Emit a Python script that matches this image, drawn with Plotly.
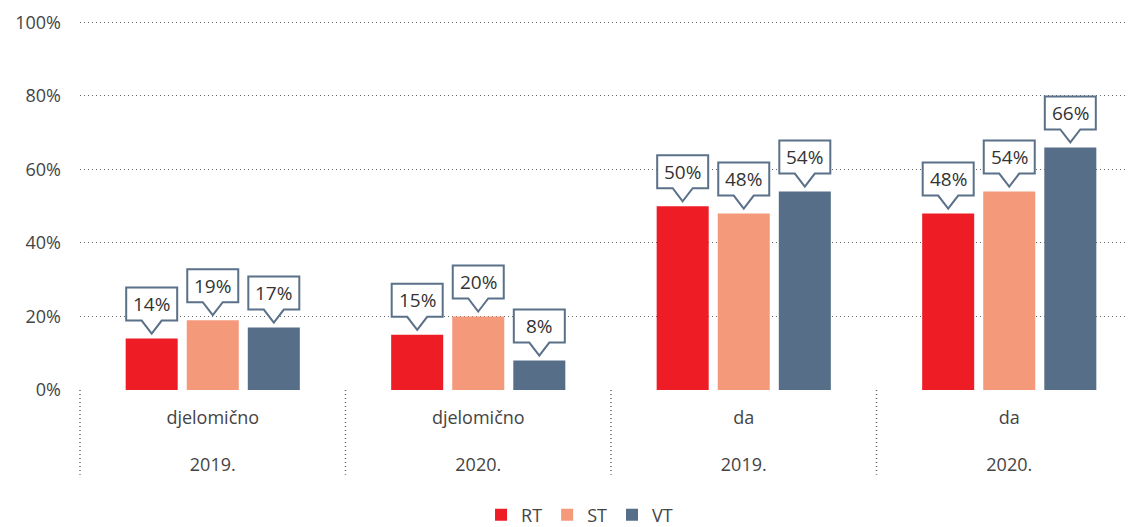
import plotly.graph_objects as go

answers = ["djelomično", "djelomično", "da", "da"]
years = ["2019.", "2020.", "2019.", "2020."]
series_names = ["RT", "ST", "VT"]
series_values = {
    "RT": [14, 15, 50, 48],
    "ST": [19, 20, 48, 54],
    "VT": [17, 8, 54, 66],
}
colors = {"RT": "#ee1c25", "ST": "#f5997b", "VT": "#566e87"}
y_ticks = [0, 20, 40, 60, 80, 100]

categories = [f"{a}<br><br>{y}" for a, y in zip(answers, years)]

W, H = 1134, 527
ML, MR, MT, MB = 72, 0, 13, 145
BARGAP, BARGROUPGAP = 0.31, 0.148
FONT = "'Open Sans', Roboto, sans-serif"
TXT = "#444444"
SLATE = "#5b7089"

fig = go.Figure()
for name in series_names:
    fig.add_trace(go.Bar(
        name=name, x=categories, y=series_values[name],
        marker=dict(color=colors[name], line=dict(width=0)),
    ))

plot_w = W - ML - MR
group_w = plot_w / len(categories)
slot = group_w * (1 - BARGAP) / len(series_names)

shapes = []
annotations = []
for j, name in enumerate(series_names):
    dx = (j - (len(series_names) - 1) / 2) * slot
    for i, v in enumerate(series_values[name]):
        hw, th, tb, bt = 25.5, 5, 18, 51
        path = (f"M {dx:.2f},{th} L {dx+10:.2f},{tb} L {dx+hw:.2f},{tb} "
                f"L {dx+hw:.2f},{bt} L {dx-hw:.2f},{bt} L {dx-hw:.2f},{tb} "
                f"L {dx-10:.2f},{tb} Z")
        shapes.append(dict(
            type="path", xref="x", yref="y", xsizemode="pixel", ysizemode="pixel",
            xanchor=i, yanchor=v, path=path, fillcolor="white",
            line=dict(color=SLATE, width=2), layer="above",
        ))
        annotations.append(dict(
            x=i, y=v, xref="x", yref="y", text=f"{v}%", showarrow=False,
            xshift=dx, yshift=(tb + bt) / 2, yanchor="middle",
            font=dict(family=FONT, size=19, color="#333333"),
        ))

for fx in [0, 0.25, 0.5, 0.75]:
    shapes.append(dict(
        type="line", xref="paper", yref="paper", x0=fx, x1=fx, y0=0, y1=-0.23,
        line=dict(color="#666666", width=1.5, dash="1px,3px"), layer="below",
    ))

fig.update_layout(
    width=W, height=H,
    margin=dict(l=ML, r=MR, t=MT, b=MB),
    paper_bgcolor="white", plot_bgcolor="white",
    barmode="group", bargap=BARGAP, bargroupgap=BARGROUPGAP,
    font=dict(family=FONT, size=18, color=TXT),
    shapes=shapes, annotations=annotations,
    showlegend=True,
    legend=dict(
        orientation="h", xref="container", yref="container",
        x=0.504, xanchor="center", y=0.038, yanchor="middle",
        font=dict(family=FONT, size=18, color=TXT), traceorder="normal",
    ),
    xaxis=dict(
        type="category", showgrid=False, zeroline=False, showline=False,
        ticks="", ticklabelstandoff=15,
        tickfont=dict(family=FONT, size=18, color=TXT),
    ),
    yaxis=dict(
        range=[0, 100.4], tickvals=y_ticks, ticktext=[f"{t}%" for t in y_ticks],
        showgrid=True, gridcolor="#666666", gridwidth=1.2, griddash="1px,3px",
        zeroline=False, showline=False, ticks="",
        ticklabelstandoff=18,
        tickfont=dict(family=FONT, size=18, color=TXT),
    ),
)

fig.write_html("out.html")
